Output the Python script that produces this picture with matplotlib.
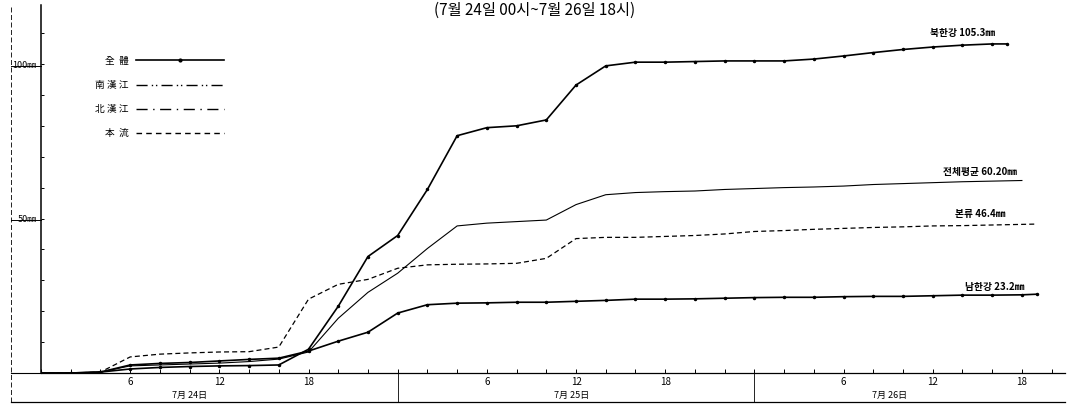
import matplotlib
matplotlib.use('Agg')
import matplotlib.pyplot as plt
import matplotlib.transforms as mtransforms
from matplotlib.lines import Line2D

plt.rcParams['font.family'] = ['Noto Sans CJK KR', 'DejaVu Sans']

# hours counted from 7/24 00시
hours = [0, 2, 4, 6, 8, 10, 12, 14, 16, 18, 20, 22, 24, 26, 28, 30, 32, 34,
         36, 38, 40, 42, 44, 46, 48, 50, 52, 54, 56, 58, 60, 62, 64]

# 북한강 (top curve, ends ~65h)
bukhan_hours = hours + [65]
bukhan = [0, 0, 0.3, 1.3, 1.8, 2.1, 2.3, 2.4, 2.6, 7.7, 21.6, 37.7, 44.5,
          59.4, 76.8, 79.4, 80.0, 81.9, 93.2, 99.4, 100.6, 100.6, 100.8,
          101.0, 101.0, 101.0, 101.6, 102.6, 103.7, 104.7, 105.5, 106.1,
          106.5, 106.5]

# 전체평균 (thin solid)
total_hours = hours + [66]
total = [0, 0, 0.3, 2.3, 2.6, 2.9, 3.2, 3.7, 4.5, 6.8, 17.7, 26.1, 32.3,
         40.3, 47.6, 48.5, 49.0, 49.5, 54.5, 57.7, 58.4, 58.7, 58.9, 59.4,
         59.7, 60.0, 60.2, 60.5, 61.0, 61.3, 61.6, 61.9, 62.1, 62.3]

# 본류 (dashed)
main_hours = hours + [66, 67]
main = [0, 0, 0.3, 5.2, 6.1, 6.5, 6.8, 6.9, 8.4, 23.9, 28.7, 30.3, 33.9,
        35.0, 35.2, 35.3, 35.5, 37.1, 43.5, 43.9, 43.9, 44.2, 44.5, 45.0,
        45.8, 46.1, 46.5, 46.8, 47.1, 47.3, 47.6, 47.7, 47.9, 48.1, 48.2]

# 남한강 (bottom curve with marks)
namhan_hours = hours + [66, 67]
namhan = [0, 0, 0.3, 2.6, 3.1, 3.4, 3.9, 4.4, 4.8, 7.1, 10.3, 13.2, 19.4,
          22.1, 22.6, 22.7, 22.9, 22.9, 23.2, 23.5, 23.9, 23.9, 24.0, 24.2,
          24.4, 24.5, 24.5, 24.7, 24.8, 24.8, 25.0, 25.2, 25.2, 25.3, 25.5]

end_labels = ['북한강 105.3㎜', '전체평균 60.20㎜', '본류 46.4㎜', '남한강 23.2㎜']
end_label_pos = [(64.2, 110), (65.7, 65), (64.9, 51.5), (66.2, 27.8)]

legend_labels = ['全  體', '南 漢 江', '北 漢 江', '本  流']
xtick_hours = [6, 12, 18, 30, 36, 42, 54, 60, 66]
xtick_labels = ['6', '12', '18', '6', '12', '18', '6', '12', '18']
day_labels = ['7月 24日', '7月 25日', '7月 26日']
day_label_x = [10, 35.7, 57.1]
day_bounds = [24, 48]

fig = plt.figure(figsize=(10.7, 4.05), dpi=100)
ax = fig.add_axes([41 / 1070, 32 / 405, 1024 / 1070, 368 / 405])

ax.plot(bukhan_hours, bukhan, color='black', lw=1.2, marker='.', ms=3)
ax.plot(total_hours, total, color='black', lw=0.8)
ax.plot(main_hours, main, color='black', lw=0.9, dashes=(4, 2.5))
ax.plot(namhan_hours, namhan, color='black', lw=1.2, marker='.', ms=3)

for txt, (x, y) in zip(end_labels, end_label_pos):
    ax.text(x, y, txt, ha='right', va='center', fontsize=7, fontweight='bold')

ax.set_xlim(0, 68.9)
ax.set_ylim(0, 119.1)

for s in ['top', 'right']:
    ax.spines[s].set_visible(False)
ax.spines['left'].set_linewidth(1.1)
ax.spines['bottom'].set_linewidth(0.9)

ax.set_xticks(xtick_hours)
ax.set_xticklabels(xtick_labels, fontsize=7)
ax.set_xticks(range(0, 69, 2), minor=True)
ax.tick_params(axis='x', which='both', direction='in', length=3, width=0.7, pad=3)

ax.set_yticks([50, 100])
ax.set_yticklabels(['50㎜', '100㎜'], fontsize=6.5)
ax.set_yticks(range(10, 120, 10), minor=True)
ax.tick_params(axis='y', which='both', direction='in', length=2, width=0.7, pad=3)

# frame below the axis and at the left side
below = -29 / 368
left_out = -30 / 1024
bt = mtransforms.blended_transform_factory(ax.transData, ax.transAxes)
for d in day_bounds:
    ax.plot([d, d], [0, below], color='black', lw=0.6, transform=bt, clip_on=False)
for txt, x in zip(day_labels, day_label_x):
    ax.text(x, -22 / 368, txt, transform=bt, ha='center', va='center', fontsize=6.5)
ax.plot([left_out, 1], [below, below], color='black', lw=0.9,
        transform=ax.transAxes, clip_on=False)
ax.plot([left_out, left_out], [below, 1], color='black', lw=0.6, dashes=(6, 3),
        transform=ax.transAxes, clip_on=False)
ax.plot([left_out, 0], [0, 0], color='black', lw=0.8,
        transform=ax.transAxes, clip_on=False)
lt = mtransforms.blended_transform_factory(ax.transAxes, ax.transData)
for v in [50, 100]:
    ax.plot([left_out, 0], [v - 0.6, v - 0.6], color='black', lw=0.7,
            transform=lt, clip_on=False)

handles = [
    Line2D([], [], color='black', lw=1.2, marker='.', ms=4),
    Line2D([], [], color='black', lw=1.0, dashes=(8, 3, 1, 2, 1, 3)),
    Line2D([], [], color='black', lw=1.0, dashes=(8, 4, 1, 4)),
    Line2D([], [], color='black', lw=1.0, dashes=(4, 3)),
]
ax.legend(handles, legend_labels, loc='upper left', bbox_to_anchor=(0.048, 0.875),
          frameon=False, markerfirst=False, handlelength=9, handletextpad=0.8,
          labelspacing=1.45, fontsize=7, borderpad=0)

fig.text(535 / 1070, 1 - 10 / 405, '(7월 24일 00시~7월 26일 18시)',
         ha='center', va='center', fontsize=11)

fig.savefig('out.png', dpi=100)
